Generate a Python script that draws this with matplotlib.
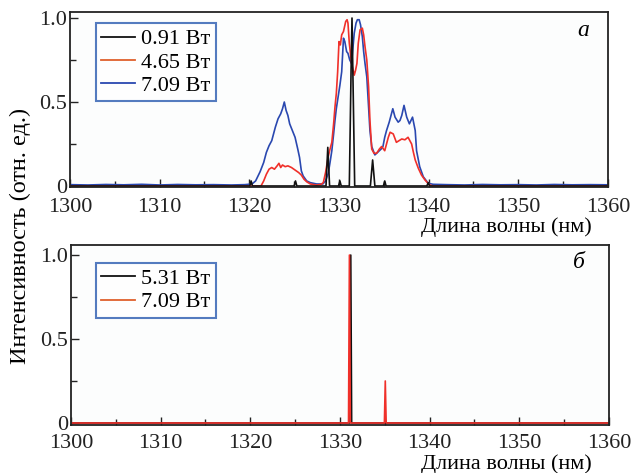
import matplotlib
matplotlib.use("Agg")
import matplotlib.pyplot as plt
from matplotlib.lines import Line2D
from matplotlib.ticker import MultipleLocator, FixedLocator, FixedFormatter

plt.rcParams['font.family'] = ['Liberation Serif', 'DejaVu Serif']

# ---------------- data: panel a ----------------
wl_black_a = [1300, 1320.05, 1320.2, 1320.35, 1325.0, 1325.15, 1325.3, 1328.55, 1328.75, 1328.95,
              1329.95, 1330.1, 1330.25, 1331.15, 1331.35, 1331.45, 1331.6, 1331.75,
              1333.5, 1333.75, 1334.0, 1334.95, 1335.1, 1335.25, 1339.8, 1339.95, 1340.1, 1360]
int_black_a = [0, 0, 0.03, 0, 0, 0.03, 0, 0, 0.23, 0,
               0, 0.03, 0, 0, 0.70, 1.0, 0.5, 0,
               0, 0.155, 0, 0, 0.03, 0, 0, 0.02, 0, 0]

wl_red_a = [1300, 1321.3, 1321.6, 1321.9, 1322.2, 1322.5, 1322.8, 1323.1, 1323.3, 1323.5, 1323.7,
            1324.0, 1324.3, 1324.7, 1325.1, 1325.5, 1325.8, 1326.1, 1326.4, 1326.8, 1327.5, 1328.0,
            1328.25, 1328.5, 1328.8, 1329.0, 1329.2, 1329.4, 1329.55, 1329.7, 1329.85, 1330.0,
            1330.15, 1330.3, 1330.5, 1330.75, 1330.9, 1331.0, 1331.15, 1331.4, 1331.7, 1331.85,
            1332.0, 1332.15, 1332.35, 1332.6, 1332.75, 1332.9, 1333.1, 1333.3, 1333.45, 1333.65,
            1333.9, 1334.2, 1334.5, 1334.75, 1335.1, 1335.3, 1335.5, 1335.7, 1336.05, 1336.4,
            1336.7, 1337.0, 1337.35, 1337.7, 1338.1, 1338.3, 1338.5, 1338.85, 1339.2, 1339.6,
            1340.1, 1340.5, 1360]
int_red_a = [0, 0, 0.03, 0.07, 0.10, 0.11, 0.10, 0.12, 0.135, 0.11, 0.125,
             0.115, 0.12, 0.11, 0.095, 0.08, 0.065, 0.04, 0.025, 0.012, 0.005, 0.01,
             0.02, 0.08, 0.175, 0.22, 0.26, 0.37, 0.47, 0.55, 0.68, 0.86,
             0.84, 0.90, 0.92, 0.98, 0.99, 0.97, 0.85, 0.73, 0.66, 0.69,
             0.73, 0.85, 0.93, 0.94, 0.90, 0.83, 0.75, 0.59, 0.39, 0.22,
             0.195, 0.195, 0.22, 0.235, 0.21, 0.25, 0.29, 0.32, 0.31, 0.26,
             0.27, 0.28, 0.275, 0.29, 0.25, 0.20, 0.155, 0.105, 0.065, 0.035,
             0.006, 0, 0]

wl_blue_a = [1300, 1302, 1304, 1306, 1308, 1310, 1312, 1314, 1316, 1318, 1319.5, 1320.3, 1320.7,
             1321.2, 1321.6, 1321.9, 1322.2, 1322.5, 1322.9, 1323.2, 1323.5, 1323.7, 1323.9,
             1324.1, 1324.3, 1324.5, 1324.8, 1325.1, 1325.4, 1325.6, 1325.8, 1326.0, 1326.4,
             1326.8, 1327.5, 1328.2, 1328.5, 1328.8, 1329.0, 1329.2, 1329.4, 1329.55, 1329.7,
             1329.9, 1330.1, 1330.3, 1330.5, 1330.65, 1330.85, 1331.0, 1331.2, 1331.4, 1331.55,
             1331.7, 1331.9, 1332.05, 1332.25, 1332.4, 1332.6, 1332.75, 1332.9, 1333.1, 1333.3,
             1333.45, 1333.65, 1334.0, 1334.4, 1334.7, 1334.9, 1335.1, 1335.3, 1335.6, 1335.8,
             1336.0, 1336.25, 1336.6, 1336.8, 1337.0, 1337.25, 1337.55, 1337.85, 1338.2, 1338.5,
             1338.65, 1339.0, 1339.4, 1339.95, 1340.5, 1342, 1344, 1346, 1348, 1350, 1352, 1354,
             1356, 1358, 1360]
int_blue_a = [0.008, 0.006, 0.009, 0.007, 0.010, 0.006, 0.009, 0.007, 0.008, 0.006, 0.008, 0.012, 0.03,
              0.085, 0.14, 0.20, 0.24, 0.27, 0.35, 0.40, 0.43, 0.46, 0.50,
              0.45, 0.42, 0.37, 0.33, 0.29, 0.22, 0.17, 0.09, 0.06, 0.03,
              0.02, 0.012, 0.012, 0.03, 0.075, 0.14, 0.21, 0.31, 0.39, 0.46,
              0.53, 0.60, 0.68, 0.88, 0.86, 0.80, 0.79, 0.75, 0.73, 0.82,
              0.91, 0.97, 0.99, 0.99, 0.96, 0.89, 0.80, 0.73, 0.65, 0.47,
              0.33, 0.235, 0.185, 0.205, 0.22, 0.235, 0.29, 0.33, 0.38, 0.42,
              0.46, 0.41, 0.38, 0.39, 0.42, 0.48, 0.41, 0.37, 0.41, 0.33,
              0.21, 0.115, 0.055, 0.016, 0.010, 0.008, 0.006, 0.009, 0.007, 0.008, 0.006, 0.009,
              0.007, 0.008, 0.007]

labels_a = ['0.91 Вт', '4.65 Вт', '7.09 Вт']

# ---------------- data: panel б ----------------
wl_black_b = [1300, 1331.1, 1331.2, 1331.3, 1360]
int_black_b = [0, 0, 1.0, 0, 0]
wl_red_b = [1300, 1330.95, 1331.05, 1331.15, 1334.95, 1335.05, 1335.15, 1360]
int_red_b = [0, 0, 1.0, 0, 0, 0.25, 0, 0]
labels_b = ['5.31 Вт', '7.09 Вт']

x_ticks = [1300, 1310, 1320, 1330, 1340, 1350, 1360]
y_ticks = [0, 0.5, 1.0]
y_ticklabels = ['0', '0.5', '1.0']

BLACK = '#111111'
RED = '#f0302a'
RED_LEG = '#e0602c'
BLUE = '#2a48b0'
FS = 16

fig = plt.figure(figsize=(6.33, 4.73), dpi=100)
ax1 = fig.add_axes([70/633, 1-187/473, 538/633, 175/473])
ax2 = fig.add_axes([71/633, 1-425/473, 538/633, 180/473])


def style(ax, ylim, xpad):
    ax.set_xlim(1300, 1360)
    ax.set_ylim(*ylim)
    ax.xaxis.set_major_locator(FixedLocator(x_ticks))
    ax.xaxis.set_minor_locator(MultipleLocator(5))
    ax.yaxis.set_major_locator(FixedLocator(y_ticks))
    ax.yaxis.set_major_formatter(FixedFormatter(y_ticklabels))
    ax.yaxis.set_minor_locator(MultipleLocator(0.25))
    ax.tick_params(which='both', direction='in', top=False, right=False, labelsize=FS, width=1.0, colors='#222222')
    ax.tick_params(axis='x', which='major', length=6, pad=xpad)
    ax.tick_params(axis='y', which='major', length=6, pad=2)
    ax.tick_params(which='minor', length=4)
    for s in ax.spines.values():
        s.set_linewidth(1.3)
        s.set_color('#222222')
    ax.set_facecolor('#fcfdfd')


style(ax1, (-0.006, 1.036), 8)
style(ax2, (-0.012, 1.06), 6.5)

lw = 1.2
ax1.plot(wl_blue_a, int_blue_a, color=BLUE, lw=lw)
ax1.plot(wl_red_a, int_red_a, color=RED, lw=lw)
ax1.plot(wl_black_a, int_black_a, color=BLACK, lw=lw)

ax2.plot(wl_black_b, int_black_b, color=BLACK, lw=lw)
ax2.plot(wl_red_b, int_red_b, color=RED, lw=lw)

h1 = [Line2D([], [], color=BLACK, lw=1.3), Line2D([], [], color=RED_LEG, lw=1.3), Line2D([], [], color=BLUE, lw=1.3)]
leg1 = ax1.legend(h1, labels_a, loc='upper left', bbox_to_anchor=(0.048, 0.935), fontsize=FS,
                  frameon=True, fancybox=False, handlelength=1.5, handletextpad=0.3,
                  borderpad=0.25, labelspacing=0.12, borderaxespad=0)
leg1.get_frame().set_edgecolor('#2a5ab0')
leg1.get_frame().set_linewidth(1.5)

h2 = [Line2D([], [], color=BLACK, lw=1.3), Line2D([], [], color=RED_LEG, lw=1.3)]
leg2 = ax2.legend(h2, labels_b, loc='upper left', bbox_to_anchor=(0.046, 0.9), fontsize=FS,
                  frameon=True, fancybox=False, handlelength=1.5, handletextpad=0.3,
                  borderpad=0.25, labelspacing=0.12, borderaxespad=0)
leg2.get_frame().set_edgecolor('#2a5ab0')
leg2.get_frame().set_linewidth(1.5)

ax1.text(583/633, 1-30/473, 'a', transform=fig.transFigure, fontsize=FS+1, style='italic', ha='center', va='center')
ax2.text(579/633, 1-263/473, 'б', transform=fig.transFigure, fontsize=FS+1, style='italic', ha='center', va='center')

fig.text(506/633, 1-227/473, 'Длина волны (нм)', fontsize=16, ha='center', va='center')
fig.text(506/633, 1-464/473, 'Длина волны (нм)', fontsize=16, ha='center', va='center')
fig.text(20/633, 1-236/473, 'Интенсивность (отн. ед.)', fontsize=17.5, rotation=90, ha='center', va='center')

fig.savefig('out.png', dpi=100)
